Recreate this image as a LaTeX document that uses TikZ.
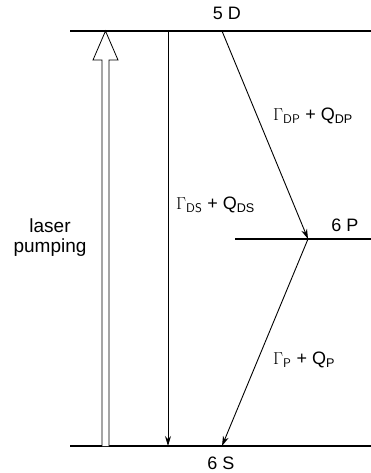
\documentclass[tikz,border=0pt]{standalone}
\usepackage{fontspec}
\setmainfont{Liberation Sans}
\usetikzlibrary{arrows.meta,positioning}

\begin{document}
\begin{tikzpicture}[
  x=1pt,y=-1pt,
  font=\fontsize{18}{20}\selectfont,
  level/.style={line width=1.2pt},
  lvl/.style={inner sep=1pt},
  rate/.style={inner sep=1pt,anchor=west},
  arr/.style={-{Stealth[length=10pt,width=6pt]},line width=0.9pt}
]
\useasboundingbox (0,0) rectangle (371,473);

% levels
\coordinate (d5w) at (70,31);   \coordinate (d5e) at (371,31);
\coordinate (p6w) at (235,239); \coordinate (p6e) at (371,239);
\coordinate (s6w) at (70,446);  \coordinate (s6e) at (371,446);
\draw[level] (d5w) -- (d5e);
\draw[level] (p6w) -- (p6e);
\draw[level] (s6w) -- (s6e);

\node[lvl] (d5) at (227,13) {5 D};
\node[lvl] (p6) at (345,225) {6 P};
\node[lvl] (s6) at (221,463) {6 S};

% transitions
\coordinate (dtop) at (168,31);  \coordinate (dbot) at (168,446);
\coordinate (dptop) at (222,31); \coordinate (pmid) at (308,239);
\coordinate (pbot) at (222,446);
\draw[arr] (dtop) -- (dbot);
\draw[arr] (dptop) -- (pmid);
\draw[arr] (pmid) -- (pbot);

\node[rate] (gdp) at (272,116) {$\Gamma_{\mathsf{DP}}$ + Q\textsubscript{DP}};
\node[rate] (gds) at (175,205) {$\Gamma_{\mathsf{DS}}$ + Q\textsubscript{DS}};
\node[rate] (gp)  at (272,360) {$\Gamma_{\mathsf{P}}$ + Q\textsubscript{P}};

% laser pumping
\draw[line width=0.8pt,fill=white] (102,446) -- (102,60) -- (93,60) -- (105.5,31)
  -- (118,60) -- (109,60) -- (109,446);
\node[align=center,font=\fontsize{19}{20}\selectfont] (lp) at (50,238) {laser\\pumping};
\end{tikzpicture}
\end{document}
